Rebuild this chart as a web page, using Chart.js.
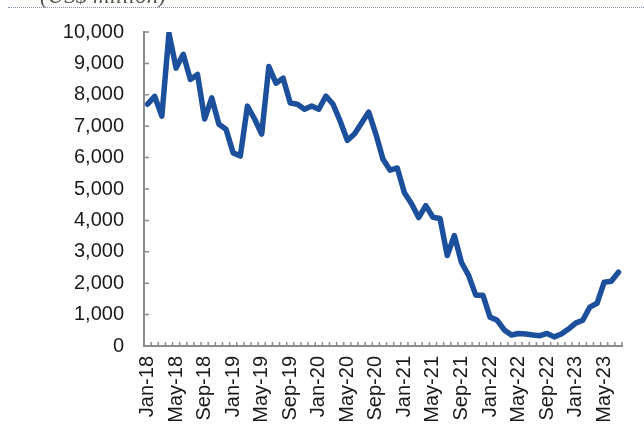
<!DOCTYPE html>
<html>
<head>
<meta charset="utf-8">
<script src="https://cdn.jsdelivr.net/npm/chart.js@4.4.0/dist/chart.umd.min.js"></script>
<style>
  html, body { margin: 0; padding: 0; background: #fff; overflow: hidden; }
  #wrap { position: relative; width: 644px; height: 443px; }
  #unit { position: absolute; left: 40px; top: -17px; font: italic 23px "Liberation Serif", serif; color: #555; white-space: nowrap; }
  #rule { position: absolute; left: 8px; right: 0; top: 7px; border-top: 1px dotted #7f8ea3; }
</style>
</head>
<body>
<div id="wrap">
  <canvas id="line-chart" width="644" height="443"></canvas>
  <div id="unit">(US$ million)</div>
  <div id="rule"></div>
</div>
<script>
// months Jan-18 .. Jul-23
var months = [
  "Jan-18","Feb-18","Mar-18","Apr-18","May-18","Jun-18","Jul-18","Aug-18","Sep-18","Oct-18","Nov-18","Dec-18",
  "Jan-19","Feb-19","Mar-19","Apr-19","May-19","Jun-19","Jul-19","Aug-19","Sep-19","Oct-19","Nov-19","Dec-19",
  "Jan-20","Feb-20","Mar-20","Apr-20","May-20","Jun-20","Jul-20","Aug-20","Sep-20","Oct-20","Nov-20","Dec-20",
  "Jan-21","Feb-21","Mar-21","Apr-21","May-21","Jun-21","Jul-21","Aug-21","Sep-21","Oct-21","Nov-21","Dec-21",
  "Jan-22","Feb-22","Mar-22","Apr-22","May-22","Jun-22","Jul-22","Aug-22","Sep-22","Oct-22","Nov-22","Dec-22",
  "Jan-23","Feb-23","Mar-23","Apr-23","May-23","Jun-23","Jul-23"
];
var values = [
  7700, 7950, 7320, 9960, 8850, 9290, 8490, 8650, 7230, 7900, 7060, 6900,
  6150, 6050, 7640, 7230, 6750, 8900, 8370, 8530, 7740, 7700, 7540, 7640,
  7540, 7960, 7700, 7160, 6550, 6750, 7100, 7450, 6750, 5950, 5600, 5670,
  4880, 4530, 4090, 4470, 4100, 4060, 2880, 3520, 2660, 2250, 1620, 1620,
  920, 820, 510, 350, 400, 380, 350, 330, 400, 290, 380, 540,
  730, 820, 1240, 1360, 2030, 2060, 2350
];
var yTicks = [0, 1000, 2000, 3000, 4000, 5000, 6000, 7000, 8000, 9000, 10000];

var axisColor = '#8c8c8c';
var font = { family: '"Liberation Sans", Arial, sans-serif', size: 20 };

// tick marks pointing into the plot, like the original
var innerTicks = {
  id: 'innerTicks',
  afterDraw: function(chart) {
    var ctx = chart.ctx, xs = chart.scales.x, ys = chart.scales.y;
    var area = chart.chartArea;
    ctx.save();
    ctx.strokeStyle = axisColor;
    ctx.lineWidth = 1.5;
    ctx.beginPath();
    yTicks.forEach(function(v) {
      var y = ys.getPixelForValue(v);
      ctx.moveTo(area.left, y);
      ctx.lineTo(area.left + 5, y);
    });
    var step = xs.getPixelForValue(1) - xs.getPixelForValue(0);
    for (var i = 0; i <= months.length; i++) {
      var x = xs.getPixelForValue(0) - step / 2 + i * step;
      ctx.moveTo(x, area.bottom);
      ctx.lineTo(x, area.bottom - 4);
    }
    ctx.stroke();
    ctx.restore();
  }
};

new Chart(document.getElementById("line-chart"), {
  type: 'line',
  data: {
    labels: months,
    datasets: [{
      data: values,
      borderColor: '#1c4f9c',
      borderWidth: 5.5,
      borderJoinStyle: 'round',
      borderCapStyle: 'round',
      pointRadius: 0,
      tension: 0,
      fill: false
    }]
  },
  options: {
    responsive: false,
    animation: false,
    layout: { padding: { left: 0, right: 22, top: 30, bottom: 0 } },
    plugins: { legend: { display: false }, tooltip: { enabled: false } },
    scales: {
      x: {
        offset: true,
        grid: { display: false, drawTicks: false, offset: true },
        border: { display: true, color: axisColor, width: 2 },
        ticks: {
          autoSkip: false,
          maxRotation: 90,
          minRotation: 90,
          padding: 10,
          color: '#1a1a1a',
          font: font,
          callback: function(v, i) { return i % 4 === 0 ? months[i] : ''; }
        },
        afterFit: function(s) { s.height = 97; s.paddingLeft = 0; s.paddingRight = 0; }
      },
      y: {
        min: 0,
        max: 10000,
        grid: { display: false, drawTicks: false },
        border: { display: true, color: axisColor, width: 2 },
        afterBuildTicks: function(s) { s.ticks = yTicks.map(function(v) { return { value: v }; }); },
        ticks: {
          padding: 20,
          color: '#1a1a1a',
          font: font,
          callback: function(v) { return v.toLocaleString('en-US'); }
        },
        afterFit: function(s) { s.width = 144; }
      }
    }
  },
  plugins: [innerTicks]
});
</script>
</body>
</html>
